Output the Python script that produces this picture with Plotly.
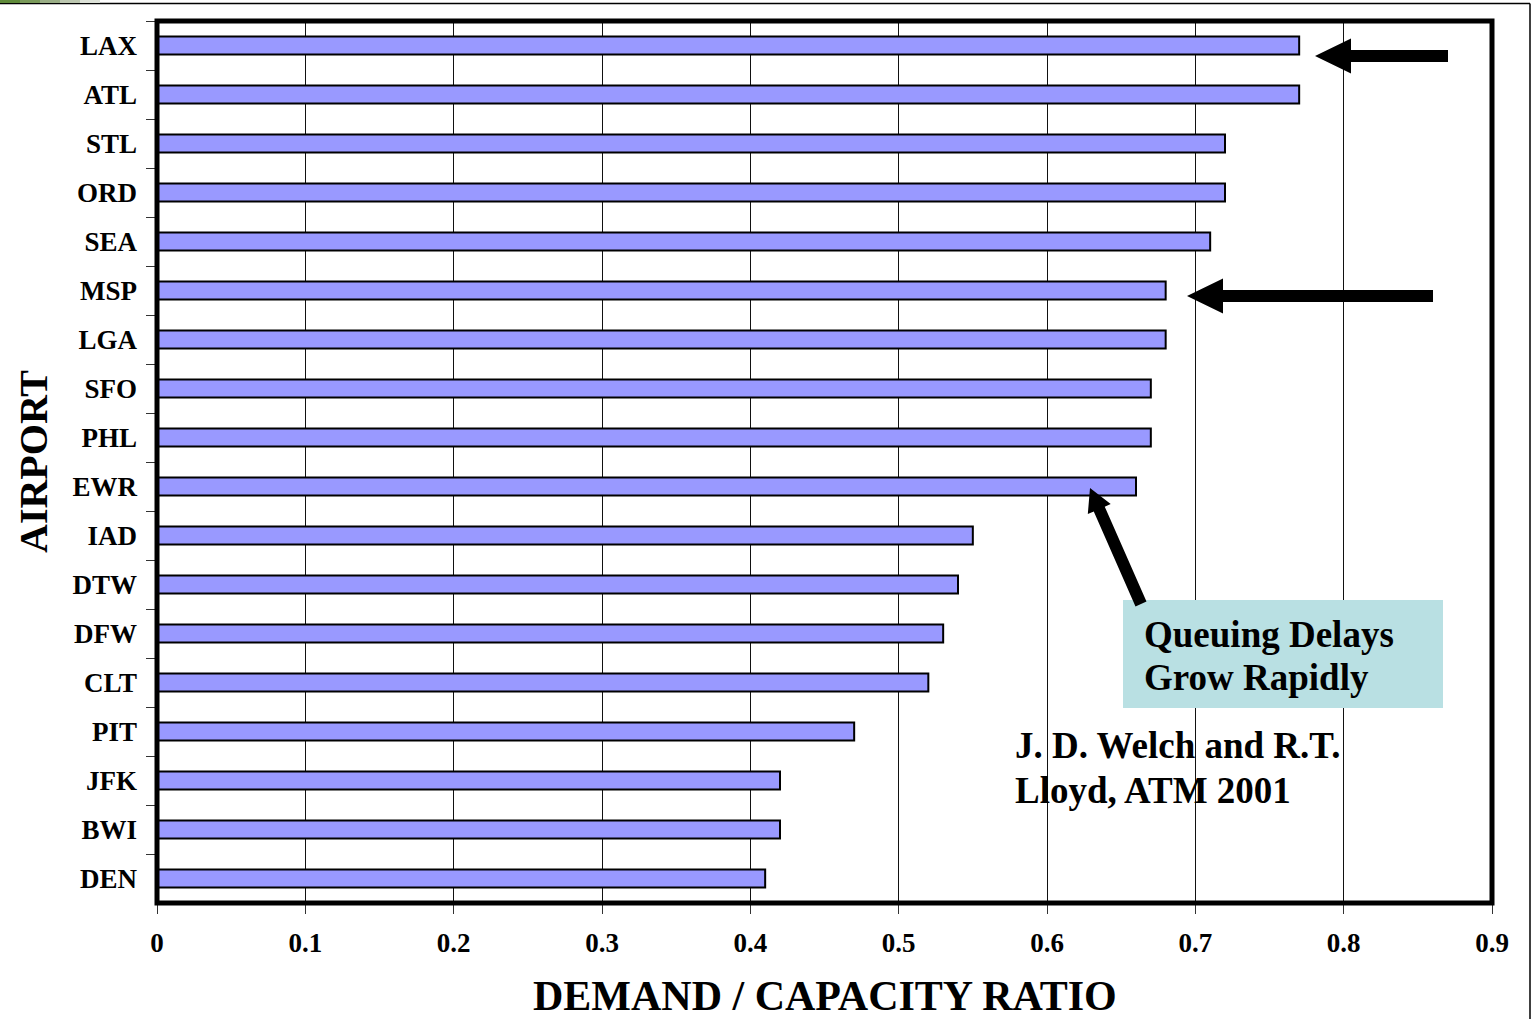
import math
import plotly.graph_objects as go

# ---------------- data ----------------
airports = ["LAX", "ATL", "STL", "ORD", "SEA", "MSP", "LGA", "SFO", "PHL",
            "EWR", "IAD", "DTW", "DFW", "CLT", "PIT", "JFK", "BWI", "DEN"]
ratios = [0.77, 0.77, 0.72, 0.72, 0.71, 0.68, 0.68, 0.67, 0.67,
          0.66, 0.55, 0.54, 0.53, 0.52, 0.47, 0.42, 0.42, 0.41]
x_tick_vals = [0, 0.1, 0.2, 0.3, 0.4, 0.5, 0.6, 0.7, 0.8, 0.9]
x_tick_text = ["0", "0.1", "0.2", "0.3", "0.4", "0.5", "0.6", "0.7", "0.8", "0.9"]

x_title = "DEMAND / CAPACITY RATIO"
y_title = "AIRPORT"
callout_lines = ["Queuing Delays", "Grow Rapidly"]
credit_lines = ["J. D. Welch and R.T.", "Lloyd, ATM 2001"]

# ---------------- geometry helpers ----------------
W, H = 1534, 1019
ML, MR, MT, MB = 157, 42, 21, 116
PW, PH = W - ML - MR, H - MT - MB


def px(xp):
    return (xp - ML) / PW


def py(yp):
    return (H - MB - yp) / PH


FONT = "Liberation Serif, Times New Roman, serif"


def block_arrow(tail, tip, shaft_w, head_w, head_len):
    (x0, y0), (x1, y1) = tail, tip
    dx, dy = x1 - x0, y1 - y0
    L = math.hypot(dx, dy)
    ux, uy = dx / L, dy / L
    nx, ny = -uy, ux
    bx, by = x1 - ux * head_len, y1 - uy * head_len
    s, h = shaft_w / 2, head_w / 2
    pts = [(x0 + nx * s, y0 + ny * s), (bx + nx * s, by + ny * s),
           (bx + nx * h, by + ny * h), (x1, y1),
           (bx - nx * h, by - ny * h), (bx - nx * s, by - ny * s),
           (x0 - nx * s, y0 - ny * s)]
    path = "M " + " L ".join(f"{px(a):.5f},{py(b):.5f}" for a, b in pts) + " Z"
    return dict(type="path", xref="paper", yref="paper", path=path,
                fillcolor="black", line=dict(width=0), layer="above")


fig = go.Figure()
fig.add_trace(go.Bar(
    x=ratios, y=airports, orientation="h",
    marker=dict(color="#9999ff", line=dict(color="black", width=2)),
    hoverinfo="x+y",
))

shapes = []
# callout box
shapes.append(dict(type="rect", xref="paper", yref="paper",
                   x0=px(1123), x1=px(1443), y0=py(708), y1=py(600),
                   fillcolor="#b9e0e3", line=dict(width=0), layer="above"))
# arrows
shapes.append(block_arrow((1448, 56), (1315, 56), 12, 35, 36))
shapes.append(block_arrow((1433, 296), (1187, 296), 12, 35, 36))
shapes.append(block_arrow((1141, 604), (1090, 488), 12, 25, 23))
# thick plot frame
shapes.append(dict(type="rect", xref="paper", yref="paper", x0=0, x1=1, y0=0, y1=1,
                   line=dict(color="black", width=5), layer="above"))
# thin outer page frame (top and right)
shapes.append(dict(type="line", xref="paper", yref="paper",
                   x0=px(0), x1=px(1530), y0=py(3.5), y1=py(3.5),
                   line=dict(color="black", width=1.5)))
shapes.append(dict(type="line", xref="paper", yref="paper",
                   x0=px(1530), x1=px(1530), y0=py(3.5), y1=py(1019),
                   line=dict(color="black", width=1.5)))
# faint green strip top-left
strip_cols = ["#5f8a3a", "#7a9a5a", "#9aae86", "#bcc7b0", "#dde2d8"]
for i, c in enumerate(strip_cols):
    shapes.append(dict(type="rect", xref="paper", yref="paper",
                       x0=px(i * 20), x1=px(i * 20 + 20), y0=py(3), y1=py(0),
                       fillcolor=c, line=dict(width=0)))

annotations = []
for txt, yy in zip(callout_lines, [634.5, 677]):
    annotations.append(dict(text=txt, xref="paper", yref="paper", x=px(1142), y=py(yy),
                            xanchor="left", yanchor="middle", showarrow=False,
                            font=dict(family=FONT, size=37, color="black", weight="bold")))
for txt, yy in zip(credit_lines, [745, 790]):
    annotations.append(dict(text=txt, xref="paper", yref="paper", x=px(1013), y=py(yy),
                            xanchor="left", yanchor="middle", showarrow=False,
                            font=dict(family=FONT, size=37, color="black", weight="bold")))
annotations.append(dict(text=x_title, xref="paper", yref="paper", x=0.5, y=py(996),
                        xanchor="center", yanchor="middle", showarrow=False,
                        font=dict(family=FONT, size=42, color="black", weight="bold")))
annotations.append(dict(text=y_title, xref="paper", yref="paper", x=px(33), y=py(462),
                        xanchor="center", yanchor="middle", showarrow=False, textangle=-90,
                        font=dict(family=FONT, size=40, color="black", weight="bold")))

fig.update_layout(
    width=W, height=H,
    margin=dict(l=ML, r=MR, t=MT, b=MB, pad=0),
    paper_bgcolor="white", plot_bgcolor="white",
    showlegend=False, bargap=0.63,
    shapes=shapes, annotations=annotations,
    xaxis=dict(range=[0, 0.9], tickvals=x_tick_vals, ticktext=x_tick_text,
               showgrid=True, gridcolor="#111111", gridwidth=1, zeroline=False,
               showline=False, ticks="outside", ticklen=10, tickwidth=1, tickcolor="#333333",
               ticklabelstandoff=6, automargin=False,
               tickfont=dict(family=FONT, size=27, color="black", weight="bold")),
    yaxis=dict(type="category", categoryorder="array", categoryarray=airports,
               autorange="reversed", showgrid=False, zeroline=False, showline=False,
               ticks="outside", tickson="boundaries", ticklen=10, tickwidth=1,
               tickcolor="#333333", ticklabelstandoff=19, automargin=False,
               tickfont=dict(family=FONT, size=27, color="black", weight="bold")),
)

fig.write_html(
    "out.html",
    config={"displayModeBar": False},
    post_script="document.body.style.margin='0px';document.body.style.overflow='hidden';",
)
